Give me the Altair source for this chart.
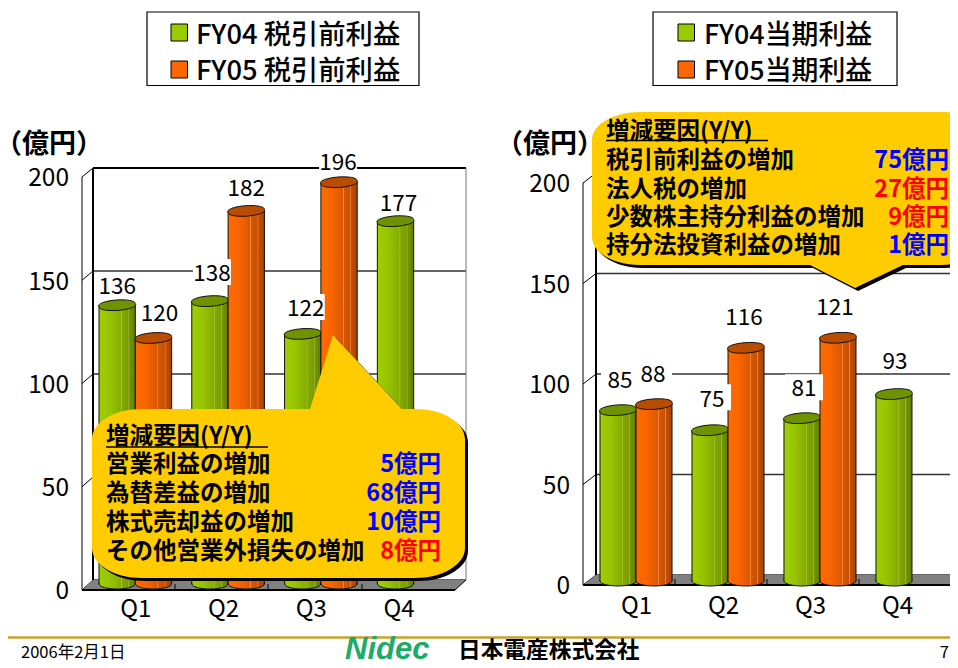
import altair as alt
import pandas as pd

QUARTERS = ["Q1", "Q2", "Q3", "Q4"]
FY = ["FY04", "FY05"]
PRETAX_FY04 = [136, 138, 122, 177]
PRETAX_FY05 = [120, 182, 196, None]
NET_FY04 = [85, 75, 81, 93]
NET_FY05 = [88, 116, 121, None]
TICKS = [0, 50, 100, 150, 200]
UNIT = "（億円）"
LEFT_LEGEND = ["FY04 税引前利益", "FY05 税引前利益"]
RIGHT_LEGEND = ["FY04当期利益", "FY05当期利益"]
HEAD = "増減要因(Y/Y)"
LEFT_ITEMS = ["営業利益の増加", "為替差益の増加", "株式売却益の増加", "その他営業外損失の増加"]
LEFT_AMOUNTS = ["5億円", "68億円", "10億円", "8億円"]
LEFT_UP = [True, True, True, False]
RIGHT_ITEMS = ["税引前利益の増加", "法人税の増加", "少数株主持分利益の増加", "持分法投資利益の増加"]
RIGHT_AMOUNTS = ["75億円", "27億円", "9億円", "1億円"]
RIGHT_UP = [True, False, False, True]

CJK = "Noto Sans CJK JP"
NUM = "Noto Sans CJK JP"
GREEN, ORANGE = "#99cc00", "#ff6600"
LIFT = 2.3  # the CJK font's "middle" baseline sits a little high

def grad(stops):
    return {"gradient": "linear", "x1": 0, "x2": 1, "y1": 0, "y2": 0,
            "stops": [{"offset": o, "color": c} for o, c in stops]}

G_BODY = grad([(0, "#9fd000"), (.3, "#96c400"), (.6, "#86ac00"), (.62, "#a4c440"), (.64, "#84a800"),
               (.8, "#7a9c00"), (.82, "#98b440"), (.84, "#769800"), (1, "#5e7c00")])
O_BODY = grad([(0, "#ff6c00"), (.3, "#f86400"), (.6, "#dc5800"), (.62, "#f09050"), (.64, "#d85600"),
               (.8, "#c85000"), (.82, "#e08848"), (.84, "#c44e00"), (1, "#a64200")])
dummy = pd.DataFrame({"a": [0]})

def text(s, x, y, size=24, color="black", align="left", font=CJK, weight="normal", **kw):
    return alt.Chart(dummy).mark_text(align=align, baseline="middle", font=font, fontSize=size,
                                      fontWeight=weight, color=color, **kw).encode(
        x=alt.value(x - 8), y=alt.value(y - 8 + LIFT), text=alt.value(s))

def line(x, y, x2, y2, color="black", w=1.0):
    return alt.Chart(dummy).mark_rule(color=color, strokeWidth=w).encode(
        x=alt.value(x - 8), y=alt.value(y - 8), x2=alt.value(x2 - 8), y2=alt.value(y2 - 8))

def shape(path, fill="none", stroke=None, w=0, dx=0, dy=0):
    kw = {"stroke": stroke, "strokeWidth": w} if stroke else {"strokeWidth": 0}
    return alt.Chart(dummy).mark_point(shape=path, size=4, filled=True, fill=fill, opacity=1, **kw).encode(
        x=alt.value(dx - 8), y=alt.value(dy - 8))

def panel(v04, v05, front_x, back_x, right_x, front_top, front_base, back_top, back_base,
          bar_base, bar_top200, band0, band1, qy, label_nudge, bg_keys, floor_ticks):
    rows = [{"q": q, "fy": FY[0], "v": a} for q, a in zip(QUARTERS, v04)] + \
           [{"q": q, "fy": FY[1], "v": b} for q, b in zip(QUARTERS, v05) if b is not None]
    data = pd.DataFrame(rows)
    d = back_x - front_x
    xs = alt.Scale(domain=QUARTERS, range=[band0 - 8, band1 - 8], paddingInner=0.217, paddingOuter=0)
    xo = alt.Scale(domain=FY, paddingInner=0, paddingOuter=0)
    xp = alt.Scale(type="point", domain=FY, padding=0.5)
    y_bar = alt.Scale(domain=[0, 200], range=[bar_base - 8, bar_top200 - 8])
    y_back = alt.Scale(domain=[0, 200], range=[back_base - 8, back_top - 8])
    y_front = alt.Scale(domain=[0, 200], range=[front_base - 8, front_top - 8])
    X = alt.X("q:N", scale=xs, axis=None)
    XO = alt.XOffset("fy:N", scale=xo)
    XP = alt.XOffset("fy:N", scale=xp)
    Y = alt.Y("v:Q", scale=y_bar, axis=None)
    L = []
    tick_df = pd.DataFrame({"t": TICKS})
    L.append(alt.Chart(tick_df).mark_rule(color="#333333", strokeWidth=1.3).encode(
        x=alt.value(back_x - 8), x2=alt.value(right_x - 8), y=alt.Y("t:Q", scale=y_back, axis=None)))
    L.append(line(back_x, back_top, right_x, back_top, "black", 2))
    L.append(line(back_x, back_top, back_x, back_base, "black", 2))
    L.append(line(right_x, back_top, right_x, back_base, "#777777", 1))
    L.append(line(front_x, front_top, front_x, front_base, "black", 1))
    for t in TICKS:
        yb = back_base + (back_top - back_base) * t / 200
        yf = front_base + (front_top - front_base) * t / 200
        L.append(line(front_x, yf, back_x, yb, "black", 1))
    rb = right_x - d
    L.append(shape(f"M{front_x},{front_base} L{back_x},{back_base} L{right_x},{back_base} L{rb},{front_base} Z",
                   "#808080"))
    L.append(line(front_x, front_base, rb, front_base, "black", 2))
    L.append(line(rb, front_base, right_x, back_base, "black", 1))
    for fx in floor_ticks:
        L.append(line(fx, front_base, fx, front_base - 6, "black", 1))
    bw = 36
    for fy, body, cap in [(FY[0], G_BODY, "#6f9300"), (FY[1], O_BODY, "#b84c00")]:
        sub = data[data.fy == fy]
        base = alt.Chart(sub)
        L.append(base.mark_bar(fill=body, stroke="#111111", strokeWidth=1).encode(
            x=X, xOffset=XO, y=Y, y2=alt.Y2(datum=0)))
        L.append(base.mark_point(
            shape=f"M-{bw/2},-1.5 L-{bw/2},0 A{bw/2},5 0 0,0 {bw/2},0 L{bw/2},-1.5",
            size=4, filled=True, fill=body, stroke="#111111", strokeWidth=1, opacity=1).encode(
            x=X, xOffset=XP, y=alt.Y("z:Q", scale=y_bar, axis=None)).transform_calculate(z="0"))
        L.append(base.mark_point(
            shape=f"M-{bw/2},1.6 A{bw/2+.3},4.6 -4 1,1 {bw/2},-1.6 A{bw/2+.3},4.6 -4 1,1 -{bw/2},1.6 Z",
            size=4, filled=True, fill=cap, stroke="#111111", strokeWidth=1, opacity=1).encode(
            x=X, xOffset=XP, y=Y))
    for key, (dx, dy) in label_nudge.items():
        if key in bg_keys:
            q, fy = key
            sub = data[(data.q == q) & (data.fy == fy)]
            hw = 19
            L.append(alt.Chart(sub).mark_point(
                shape=f"M{dx-hw},{dy-13} H{dx+hw} V{dy+13} H{dx-hw} Z", size=4, filled=True,
                fill="white", strokeWidth=0, opacity=1).encode(x=X, xOffset=XP, y=Y))
    for key, (dx, dy) in label_nudge.items():
        q, fy = key
        sub = data[(data.q == q) & (data.fy == fy)]
        L.append(alt.Chart(sub).mark_text(font=NUM, fontSize=22.5, color="black", dx=dx, dy=dy + LIFT,
                                          baseline="middle", align="center").encode(
            x=X, xOffset=XP, y=Y, text=alt.Text("v:Q", format="d")))
    L.append(alt.Chart(tick_df).mark_text(font=NUM, fontSize=24.5, color="black", align="right",
                                          baseline="middle", dy=LIFT).encode(
        x=alt.value(front_x - 13 - 8), y=alt.Y("t:Q", scale=y_front, axis=None), text=alt.Text("t:Q", format="d")))
    qdf = pd.DataFrame({"q": QUARTERS})
    L.append(alt.Chart(qdf).mark_text(font=NUM, fontSize=24, color="black", align="center",
                                      baseline="middle", dx=-7).encode(
        x=X, y=alt.value(qy - 8 + LIFT), text="q:N"))
    return L

left_nudge = {("Q1", "FY04"): (0, -21), ("Q1", "FY05"): (6, -26), ("Q2", "FY04"): (2, -29),
              ("Q2", "FY05"): (0, -24), ("Q3", "FY04"): (3, -27), ("Q3", "FY05"): (-1, -22),
              ("Q4", "FY04"): (3, -19)}
right_nudge = {("Q1", "FY04"): (2, -31), ("Q1", "FY05"): (-1, -31), ("Q2", "FY04"): (2, -33),
               ("Q2", "FY05"): (-2, -32), ("Q3", "FY04"): (2, -31), ("Q3", "FY05"): (-3, -32),
               ("Q4", "FY04"): (1, -34)}
layers = []
layers += panel(PRETAX_FY04, PRETAX_FY05, 82, 93, 466, 177, 590, 168, 580, 584, 174, 99, 450, 608,
                left_nudge, {("Q2", "FY04"), ("Q3", "FY04"), ("Q3", "FY05")}, [175, 268, 362])
layers += panel(NET_FY04, NET_FY05, 583, 596, 971, 183, 585, 173, 575, 581, 179, 600, 948, 605,
                right_nudge, {("Q1", "FY04"), ("Q1", "FY05"), ("Q2", "FY04"), ("Q3", "FY04")}, [675, 767, 859])

for bx0, bx1, labels, tx, sx, fs in [(147, 419, LEFT_LEGEND, 196, 171, 27.3), (653, 897, RIGHT_LEGEND, 704, 678, 26.9)]:
    layers.append(shape(f"M{bx0},12 H{bx1} V85.5 H{bx0} Z", "white", "black", 1.2))
    for lab, col, sy, cy in zip(labels, [GREEN, ORANGE], [24, 61], [34, 69.5]):
        layers.append(shape(f"M{sx},{sy} h16.5 v17 h-16.5 Z", col, "black", 1))
        layers.append(text(lab, tx, cy, size=fs, weight=500))

layers.append(text(UNIT, 49, 143, size=27, weight="bold", align="center"))
layers.append(text(UNIT, 550, 143, size=27, weight="bold", align="center"))

def rounded(l, t, r, b, rx, ry, top=(), bottom=()):
    p = f"M{l+rx},{t} "
    for a, c in top:
        p += f"L{a},{c} "
    p += f"L{r-rx},{t} A{rx},{ry} 0 0,1 {r},{t+ry} L{r},{b-ry} A{rx},{ry} 0 0,1 {r-rx},{b} "
    for a, c in bottom:
        p += f"L{a},{c} "
    p += f"L{l+rx},{b} A{rx},{ry} 0 0,1 {l},{b-ry} L{l},{t+ry} A{rx},{ry} 0 0,1 {l+rx},{t} Z"
    return p

left_call = rounded(92, 409, 465, 578, 50, 30, top=[(310, 409), (333, 335), (402, 409)])
right_call = rounded(592, 112, 990, 265, 48, 28, bottom=[(903, 265), (855, 288), (810, 265)])
for path in (left_call, right_call):
    layers.append(shape(path, "black", dx=3, dy=3))
    layers.append(shape(path, "#ffcc00"))

def call_text(x, right, ys, uy, items, amounts, ups):
    out = [text(HEAD, x, ys[0], size=23.5, weight="bold"), line(x, uy, x + 162, uy, "black", 1.5)]
    for y, it, am, up in zip(ys[1:], items, amounts, ups):
        out.append(text(it, x, y, size=23.5, weight="bold"))
        out.append(text(am, right, y, size=23.5, weight="bold", align="right", color="#0000ff" if up else "#ff0000"))
    return out

layers += call_text(106, 441, [435, 463, 492, 521, 550], 447, LEFT_ITEMS, LEFT_AMOUNTS, LEFT_UP)
layers += call_text(606, 949, [130, 159, 188, 216, 244], 140.5, RIGHT_ITEMS, RIGHT_AMOUNTS, RIGHT_UP)

layers.append(line(7, 637.5, 958, 637.5, "#c9a227", 2.5))
layers.append(text("2006年2月1日", 21, 650.5, size=16.5))
layers.append(text("Nidec", 345, 648, size=31, color="#1dab68", font="Liberation Sans", weight="bold", fontStyle="italic"))
layers.append(text("日本電産株式会社", 458, 648.5, size=22.7, weight="bold"))
layers.append(text("7", 949, 650.5, size=16.5, align="right"))

chart = alt.layer(*layers).resolve_scale(x="independent", y="independent", xOffset="independent").properties(
    width=942, height=652, padding=0, autosize=alt.AutoSizeParams(type="none")
).configure_view(stroke=None)
chart.save("out.html", embed_options={"renderer": "svg", "actions": False})
